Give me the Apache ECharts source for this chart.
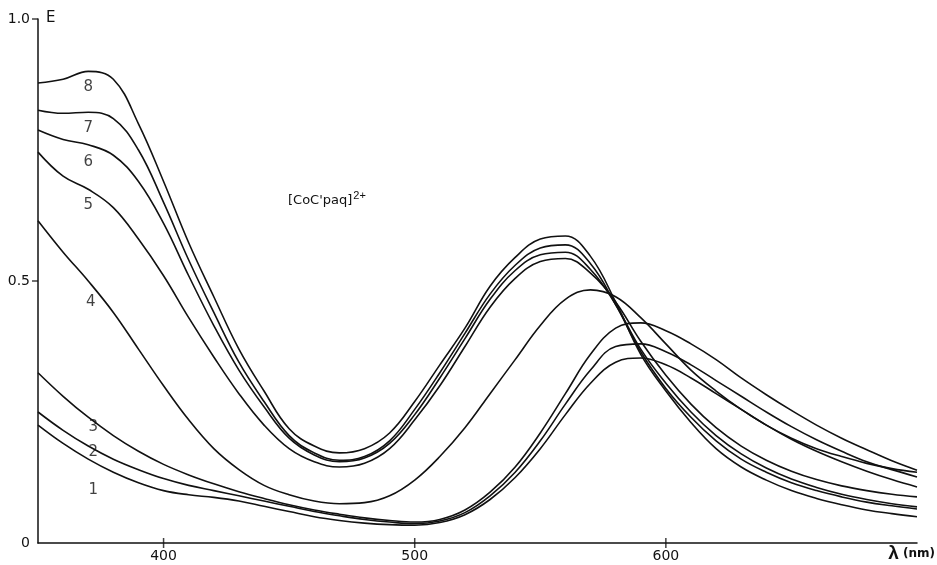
<!DOCTYPE html>
<html>
<head>
<meta charset="utf-8">
<script src="https://cdn.jsdelivr.net/npm/echarts@6/dist/echarts.min.js"></script>
<style>
  html, body { margin: 0; padding: 0; background: #fff; }
  #main { width: 937px; height: 565px; }
</style>
</head>
<body>
<div id="main"></div>
<script>
// wavelength grid (nm)
const wavelengths = [350, 360, 370, 380, 390, 400, 410, 420, 430, 440, 450, 460, 470, 480, 490, 500, 510, 520,
  530, 540, 550, 560, 570, 580, 590, 600, 610, 620, 630, 640, 650, 660, 670, 680, 690, 700]

// absorbance E of each spectrum
const curve1 = [0.225, 0.19, 0.16, 0.135, 0.115, 0.1, 0.092, 0.087, 0.08, 0.07, 0.06, 0.05, 0.043, 0.038, 0.035, 0.034, 0.039, 0.054,
  0.083, 0.125, 0.18, 0.245, 0.305, 0.345, 0.353, 0.34, 0.315, 0.285, 0.255, 0.225, 0.198, 0.175, 0.155, 0.137, 0.121, 0.107]
const curve2 = [0.25, 0.215, 0.185, 0.16, 0.14, 0.123, 0.11, 0.1, 0.09, 0.08, 0.07, 0.06, 0.052, 0.045, 0.04, 0.037, 0.042, 0.058,
  0.09, 0.135, 0.195, 0.265, 0.33, 0.375, 0.38, 0.365, 0.34, 0.31, 0.28, 0.25, 0.222, 0.197, 0.175, 0.155, 0.14, 0.126]
const curve3 = [0.325, 0.28, 0.24, 0.205, 0.175, 0.15, 0.13, 0.113, 0.098, 0.085, 0.073, 0.063, 0.055, 0.048, 0.043, 0.04, 0.045, 0.063,
  0.097, 0.145, 0.21, 0.285, 0.36, 0.41, 0.42, 0.405, 0.38, 0.35, 0.315, 0.283, 0.253, 0.225, 0.2, 0.178, 0.157, 0.139]
const curve4 = [0.615, 0.555, 0.5, 0.44, 0.37, 0.3, 0.235, 0.18, 0.14, 0.11, 0.092, 0.08, 0.075, 0.077, 0.09, 0.12, 0.165, 0.22,
  0.285, 0.35, 0.415, 0.465, 0.483, 0.47, 0.43, 0.38, 0.33, 0.29, 0.255, 0.225, 0.2, 0.18, 0.165, 0.152, 0.142, 0.135]
const curve5 = [0.746, 0.7, 0.675, 0.64, 0.58, 0.51, 0.43, 0.355, 0.285, 0.225, 0.18, 0.155, 0.145, 0.152, 0.18, 0.235, 0.3, 0.375,
  0.45, 0.505, 0.537, 0.543, 0.515, 0.46, 0.385, 0.32, 0.265, 0.22, 0.185, 0.158, 0.137, 0.121, 0.109, 0.1, 0.093, 0.088]
const curve6 = [0.788, 0.77, 0.76, 0.74, 0.69, 0.61, 0.51, 0.415, 0.33, 0.26, 0.2, 0.168, 0.155, 0.162, 0.19, 0.245, 0.315, 0.39,
  0.465, 0.52, 0.55, 0.555, 0.522, 0.455, 0.37, 0.305, 0.25, 0.205, 0.17, 0.143, 0.122, 0.106, 0.093, 0.083, 0.075, 0.069]
const curve7 = [0.826, 0.82, 0.822, 0.81, 0.75, 0.65, 0.54, 0.44, 0.345, 0.27, 0.205, 0.172, 0.158, 0.165, 0.195, 0.255, 0.325, 0.4,
  0.475, 0.53, 0.563, 0.569, 0.533, 0.455, 0.365, 0.295, 0.24, 0.195, 0.16, 0.135, 0.115, 0.1, 0.088, 0.078, 0.071, 0.065]
const curve8 = [0.878, 0.885, 0.9, 0.885, 0.8, 0.69, 0.573, 0.47, 0.37, 0.29, 0.218, 0.185, 0.172, 0.18, 0.21, 0.27, 0.34, 0.41,
  0.49, 0.545, 0.58, 0.586, 0.547, 0.46, 0.36, 0.29, 0.23, 0.18, 0.145, 0.12, 0.1, 0.085, 0.073, 0.063, 0.056, 0.05]

const curveNames = ['1', '2', '3', '4', '5', '6', '7', '8']
const curves = [curve1, curve2, curve3, curve4, curve5, curve6, curve7, curve8]

// where the curve numbers sit (nm, E)
const labelX = [372, 372, 372, 371, 370, 370, 370, 370]
const labelY = [0.10, 0.174, 0.221, 0.46, 0.645, 0.727, 0.792, 0.87]

const xTicks = [400, 500, 600]
const yTicks = [0.5, 1.0]

const chart = echarts.init(document.getElementById('main'))

const series = []
for (let i = 0; i < curves.length; i++) {
  series.push({
    name: curveNames[i],
    type: 'line',
    smooth: 0.4,
    symbol: 'none',
    lineStyle: { color: '#111', width: 1.6 },
    data: wavelengths.map((w, j) => [w, curves[i][j]]),
    z: 3
  })
}
series.push({
  name: 'numbers',
  type: 'scatter',
  symbolSize: 0,
  data: curveNames.map((n, i) => ({ value: [labelX[i], labelY[i]], name: n })),
  label: {
    show: true,
    position: 'inside',
    formatter: '{b}',
    color: '#111',
    fontSize: 15,
    fontFamily: 'DejaVu Sans'
  },
  z: 4
})
// tick marks on the axes
series.push({
  name: 'xticks',
  type: 'scatter',
  symbol: 'rect',
  symbolSize: [1.5, 10],
  itemStyle: { color: '#111' },
  clip: false,
  data: xTicks.map(v => [v, 0])
})
series.push({
  name: 'yticks',
  type: 'scatter',
  symbol: 'rect',
  symbolSize: [6, 1.5],
  symbolOffset: [-3, 0],
  itemStyle: { color: '#111' },
  clip: false,
  data: yTicks.map(v => [350, v])
})

chart.setOption({
  animation: false,
  backgroundColor: '#fff',
  grid: { left: 38, right: 20, top: 19, bottom: 22, containLabel: false },
  xAxis: {
    type: 'value',
    min: 350,
    max: 700,
    interval: 50,
    axisLine: { show: true, lineStyle: { color: '#111', width: 1.5 } },
    axisTick: { show: false },
    splitLine: { show: false },
    axisLabel: {
      color: '#111',
      fontSize: 14,
      fontFamily: 'DejaVu Sans',
      margin: 6,
      formatter: v => (xTicks.indexOf(v) >= 0 ? String(v) : '')
    }
  },
  yAxis: {
    type: 'value',
    min: 0,
    max: 1,
    interval: 0.5,
    axisLine: { show: true, lineStyle: { color: '#111', width: 1.5 } },
    axisTick: { show: false },
    splitLine: { show: false },
    axisLabel: {
      color: '#111',
      fontSize: 14,
      fontFamily: 'DejaVu Sans',
      margin: 8,
      formatter: v => (v === 0 ? '0' : v.toFixed(1))
    }
  },
  graphic: [
    {
      type: 'text',
      left: 46,
      top: 11,
      style: { text: 'E', fill: '#111', font: '15px "DejaVu Sans"' }
    },
    {
      type: 'text',
      left: 288,
      top: 190,
      style: {
        text: "[CoC'paq]{sup|2+}",
        fill: '#111',
        font: '13px "DejaVu Sans"',
        rich: { sup: { fontSize: 11, verticalAlign: 'top', padding: [0, 0, 10, 1] } }
      }
    },
    {
      type: 'text',
      right: 2,
      bottom: 2,
      style: {
        text: '{l|λ} (nm)',
        fill: '#111',
        font: 'bold 12px "DejaVu Sans"',
        rich: { l: { fontSize: 19, fontWeight: 'bold' } }
      }
    }
  ],
  series: series
})
</script>
</body>
</html>
